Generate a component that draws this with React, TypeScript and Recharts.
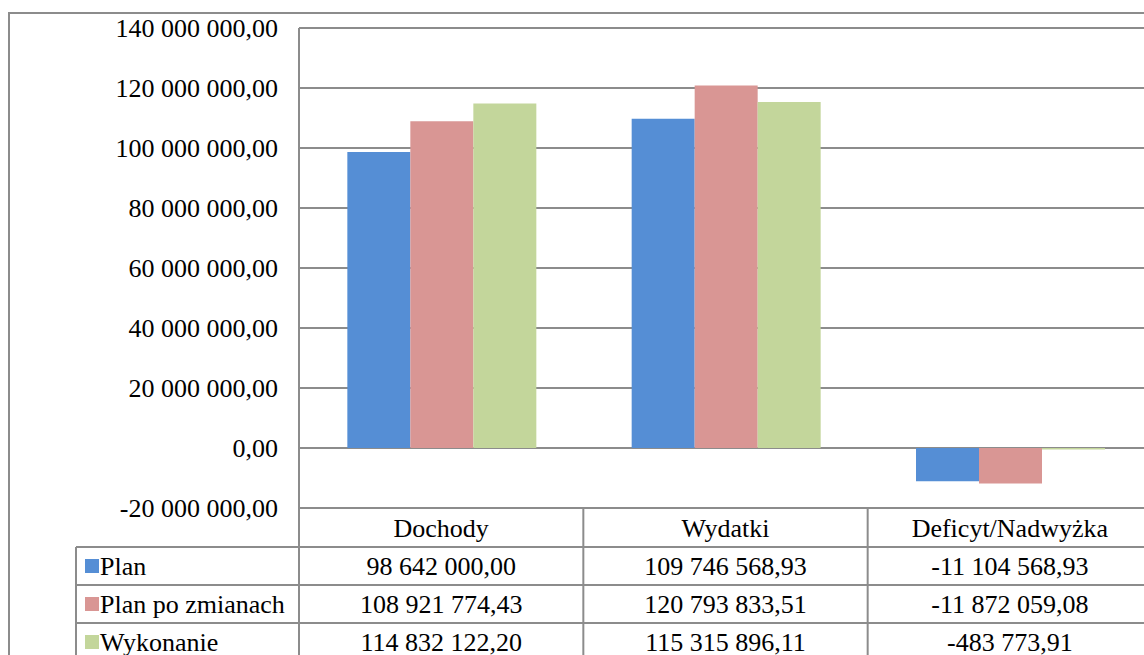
import { BarChart, Bar, XAxis, YAxis, CartesianGrid } from 'recharts';

const categories = ['Dochody', 'Wydatki', 'Deficyt/Nadwyżka'];
const plan = [98642000.0, 109746568.93, -11104568.93];
const planPoZmianach = [108921774.43, 120793833.51, -11872059.08];
const wykonanie = [114832122.2, 115315896.11, -483773.91];
const yTicks = [-20000000, 0, 20000000, 40000000, 60000000, 80000000, 100000000, 120000000, 140000000];

const SERIES = [
  { key: 'plan', name: 'Plan', color: '#558ED5', values: plan },
  { key: 'planPoZmianach', name: 'Plan po zmianach', color: '#D99694', values: planPoZmianach },
  { key: 'wykonanie', name: 'Wykonanie', color: '#C3D69B', values: wykonanie },
];

const data = categories.map((c, i) => ({
  name: c,
  plan: plan[i],
  planPoZmianach: planPoZmianach[i],
  wykonanie: wykonanie[i],
}));

const FONT = "'Liberation Serif', 'DejaVu Serif', 'Times New Roman', serif";
const LINE = '#8c8c8c';
const HEADER_H = 39;
const ROW_H = 38;
const LEGEND_W = 223;

function fmt(v: number) {
  const neg = v < 0;
  const [int, dec] = Math.abs(v).toFixed(2).split('.');
  const grouped = int.replace(/\B(?=(\d{3})+(?!\d))/g, ' ');
  return (neg ? '-' : '') + grouped + ',' + dec;
}

function TableTick(props: any) {
  const { x, y, payload, index, width, visibleTicksCount } = props;
  const colW = width / visibleTicksCount;
  const left = x - colW / 2;
  const right = x + colW / 2;
  const bottom = y + HEADER_H + ROW_H * SERIES.length + 10;
  const legendLeft = left - LEGEND_W;
  const txt = { fontFamily: FONT, fontSize: 26, fill: '#000' };

  return (
    <g>
      <line x1={left} y1={y} x2={left} y2={bottom} stroke={LINE} strokeWidth={2} />
      {index === visibleTicksCount - 1 && (
        <line x1={right} y1={y} x2={right} y2={bottom} stroke={LINE} strokeWidth={2} />
      )}
      {SERIES.map((s, r) => {
        const ly = y + HEADER_H + ROW_H * r;
        return (
          <line key={s.key} x1={index === 0 ? legendLeft : left} y1={ly} x2={right} y2={ly} stroke={LINE} strokeWidth={2} />
        );
      })}
      <text x={x} y={y + HEADER_H / 2 + 1} textAnchor="middle" dominantBaseline="central" style={txt}>
        {payload.value}
      </text>
      {SERIES.map((s, r) => (
        <text
          key={s.key}
          x={x}
          y={y + HEADER_H + ROW_H * r + ROW_H / 2}
          textAnchor="middle"
          dominantBaseline="central"
          style={txt}
        >
          {fmt(s.values[index])}
        </text>
      ))}
      {index === 0 && (
        <g>
          <line x1={legendLeft} y1={y + HEADER_H} x2={legendLeft} y2={bottom} stroke={LINE} strokeWidth={2} />
          {SERIES.map((s, r) => {
            const cy = y + HEADER_H + ROW_H * r + ROW_H / 2;
            return (
              <g key={s.key}>
                <rect x={legendLeft + 9} y={cy - 7} width={14} height={14} fill={s.color} />
                <text x={legendLeft + 24} y={cy} dominantBaseline="central" style={txt}>
                  {s.name}
                </text>
              </g>
            );
          })}
        </g>
      )}
    </g>
  );
}

export default function App() {
  return (
    <div
      style={{
        position: 'absolute',
        left: 0,
        top: 0,
        width: 1144,
        height: 655,
        overflow: 'hidden',
        background: '#fff',
        fontFamily: FONT,
      }}
    >
      <div
        style={{
          position: 'absolute',
          left: 8,
          top: 12,
          width: 1300,
          height: 800,
          borderLeft: `2px solid ${LINE}`,
          borderTop: `2px solid ${LINE}`,
          pointerEvents: 'none',
        }}
      />
      <div style={{ position: 'absolute', left: 0, top: 0 }}>
        <BarChart
          width={1152}
          height={700}
          data={data}
          margin={{ top: 28, right: 0, bottom: 0, left: 0 }}
          barCategoryGap="17%"
          barGap={0}
          style={{ fontFamily: FONT }}
        >
          <CartesianGrid vertical={false} stroke={LINE} strokeWidth={2} />
          <XAxis
            dataKey="name"
            height={192}
            axisLine={false}
            tickLine={false}
            tickSize={0}
            tickMargin={0}
            interval={0}
            tick={<TableTick />}
          />
          <YAxis
            width={299}
            domain={[-20000000, 140000000]}
            ticks={yTicks}
            interval={0}
            tickFormatter={fmt}
            axisLine={{ stroke: LINE, strokeWidth: 2 }}
            tickLine={false}
            tickSize={0}
            tickMargin={21}
            tick={{ fontFamily: FONT, fontSize: 26, fill: '#000', style: { fontFamily: FONT } }}
          />
          {SERIES.map((s) => (
            <Bar key={s.key} dataKey={s.key} name={s.name} fill={s.color} isAnimationActive={false} />
          ))}
        </BarChart>
      </div>
    </div>
  );
}
